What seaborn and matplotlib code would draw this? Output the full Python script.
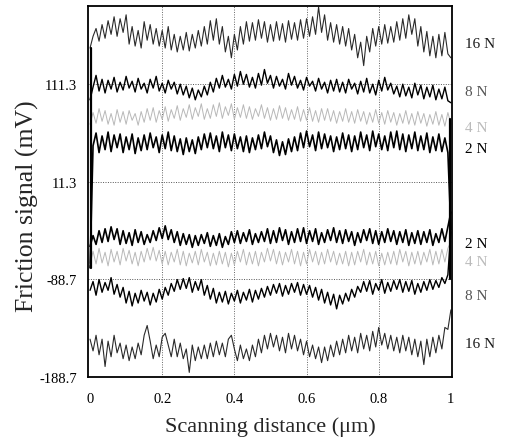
import numpy as np
import pandas as pd
import matplotlib
matplotlib.use("Agg")
import matplotlib.pyplot as plt
import matplotlib.transforms as mtransforms
import seaborn as sns

# ---------------- data (mV), sampled along 0..1 um ----------------
top_16N = [148, 160, 168, 155, 172, 158, 176, 162, 180, 160, 178, 164, 182, 152, 170, 150, 166, 148, 175, 156,
           172, 152, 168, 150, 166, 148, 170, 146, 162, 144, 160, 146, 164, 145, 162, 148, 166, 150, 170, 152,
           176, 156, 178, 152, 170, 144, 160, 138, 162, 146, 170, 152, 175, 155, 174, 156, 177, 158, 175, 154,
           172, 155, 175, 156, 173, 154, 176, 157, 174, 156, 177, 158, 178, 160, 180, 162, 190, 164, 182, 156,
           174, 154, 172, 152, 170, 150, 168, 146, 162, 138, 154, 130, 160, 144, 168, 150, 170, 152, 172, 153,
           170, 154, 175, 156, 178, 158, 182, 162, 178, 150, 170, 144, 165, 140, 160, 138, 162, 140, 164, 142,
           138]
top_8N = [95, 108, 120, 104, 116, 102, 115, 106, 118, 103, 113, 105, 119, 107, 114, 103, 117, 106, 112, 102,
          116, 107, 119, 104, 112, 102, 115, 106, 113, 101, 111, 100, 109, 97, 107, 95, 105, 98, 109, 100,
          113, 103, 117, 107, 120, 108, 116, 106, 121, 109, 124, 111, 121, 108, 118, 107, 122, 110, 126, 112,
          120, 107, 119, 109, 116, 106, 122, 110, 119, 107, 115, 105, 118, 109, 114, 104, 117, 106, 113, 102,
          115, 104, 116, 103, 113, 102, 116, 106, 112, 101, 114, 103, 117, 102, 111, 100, 115, 104, 118, 105,
          112, 101, 109, 98, 111, 99, 108, 97, 112, 100, 110, 96, 108, 98, 110, 95, 106, 96, 108, 94,
          92]
top_4N = [70, 82, 71, 86, 73, 84, 70, 81, 69, 85, 72, 83, 70, 84, 74, 81, 69, 83, 72, 86,
          74, 87, 72, 84, 75, 88, 73, 85, 76, 89, 74, 86, 77, 90, 75, 87, 78, 91, 75, 86,
          76, 90, 78, 92, 76, 88, 79, 91, 75, 87, 77, 90, 76, 88, 75, 86, 78, 90, 76, 87,
          74, 86, 75, 89, 76, 87, 74, 85, 75, 88, 73, 85, 74, 87, 73, 84, 72, 86, 74, 86,
          73, 84, 71, 83, 73, 86, 72, 83, 71, 85, 73, 83, 70, 82, 72, 85, 71, 82, 70, 84,
          72, 82, 69, 81, 71, 84, 70, 81, 69, 83, 71, 81, 68, 80, 70, 83, 69, 80, 68, 82,
          70]
top_2N = [-77, 48, 61, 41, 58, 44, 62, 42, 59, 46, 60, 41, 57, 44, 60, 40, 56, 43, 59, 44,
          61, 46, 57, 41, 59, 45, 62, 43, 58, 42, 55, 39, 56, 42, 54, 40, 57, 44, 60, 46,
          61, 45, 58, 42, 62, 46, 59, 43, 60, 45, 57, 42, 58, 41, 56, 44, 59, 45, 62, 47,
          58, 41, 54, 38, 52, 39, 55, 42, 57, 43, 61, 46, 63, 47, 59, 43, 62, 45, 60, 46,
          58, 42, 57, 44, 61, 45, 59, 42, 58, 44, 62, 46, 59, 43, 63, 47, 60, 44, 58, 43,
          62, 46, 63, 44, 60, 42, 59, 45, 62, 43, 58, 44, 61, 41, 57, 43, 60, 42, 56, 41,
          -38]
bot_2N = [-55, -44, -53, -39, -51, -37, -50, -35, -48, -37, -53, -39, -52, -41, -54, -38, -51, -40, -53, -43,
          -51, -39, -49, -36, -47, -34, -48, -38, -51, -40, -54, -42, -53, -43, -56, -44, -54, -43, -52, -41,
          -55, -44, -54, -42, -56, -45, -53, -40, -51, -39, -52, -41, -50, -38, -53, -42, -51, -40, -50, -37,
          -52, -39, -51, -36, -49, -38, -53, -40, -51, -37, -50, -36, -52, -39, -50, -37, -53, -41, -51, -38,
          -49, -36, -51, -39, -52, -38, -50, -40, -54, -41, -51, -38, -49, -37, -52, -39, -53, -40, -51, -37,
          -50, -39, -53, -40, -51, -38, -54, -41, -52, -39, -53, -40, -51, -38, -54, -42, -51, -37, -50, -35,
          -20]
bot_4N = [-74, -60, -73, -57, -72, -61, -75, -58, -71, -60, -74, -57, -70, -59, -73, -61, -75, -60, -71, -57,
          -69, -56, -70, -59, -73, -60, -74, -61, -71, -58, -74, -60, -75, -62, -72, -60, -74, -58, -71, -61,
          -75, -62, -74, -60, -73, -61, -76, -62, -74, -60, -71, -58, -74, -61, -73, -60, -75, -61, -71, -57,
          -70, -58, -73, -60, -74, -61, -71, -58, -73, -60, -75, -61, -73, -58, -71, -60, -74, -61, -73, -58,
          -71, -60, -74, -62, -73, -60, -75, -61, -74, -60, -71, -58, -74, -61, -73, -60, -75, -62, -74, -61,
          -73, -60, -74, -58, -71, -60, -75, -61, -73, -60, -74, -61, -71, -58, -74, -60, -73, -58, -71, -57,
          -50]
bot_8N = [-100, -91, -105, -89, -102, -92, -100, -87, -104, -94, -107, -97, -113, -101, -116, -103, -113, -100, -111, -102,
          -115, -103, -112, -99, -109, -97, -105, -93, -101, -89, -99, -88, -98, -87, -102, -91, -100, -89, -105, -95,
          -109, -98, -113, -102, -112, -101, -114, -103, -111, -100, -113, -102, -110, -99, -112, -100, -109, -98, -107, -96,
          -105, -94, -103, -93, -106, -95, -104, -93, -102, -92, -105, -94, -104, -95, -107, -97, -110, -99, -113, -102,
          -115, -104, -119, -105, -114, -103, -111, -99, -107, -96, -102, -91, -101, -90, -104, -93, -100, -89, -103, -92,
          -101, -90, -99, -89, -102, -91, -101, -90, -104, -93, -102, -91, -100, -89, -99, -90, -97, -87, -93, -84,
          -40]
bot_16N = [-150, -162, -146, -166, -150, -178, -152, -168, -146, -164, -154, -170, -156, -172, -158, -170, -154, -166, -146, -136,
           -152, -170, -156, -168, -148, -144, -156, -168, -150, -168, -154, -170, -160, -184, -156, -172, -158, -170, -156, -170,
           -154, -168, -152, -166, -154, -168, -150, -146, -160, -172, -156, -170, -160, -172, -156, -168, -150, -164, -146, -160,
           -144, -158, -146, -162, -148, -164, -144, -160, -146, -162, -150, -166, -152, -168, -156, -170, -158, -174, -158, -172,
           -156, -168, -152, -166, -150, -164, -146, -162, -148, -164, -144, -160, -146, -162, -142, -158, -138, -156, -144, -160,
           -146, -162, -148, -164, -146, -162, -148, -166, -150, -168, -152, -176, -150, -168, -148, -164, -146, -160, -138, -140,
           -120]
# scan turnaround segments at the ends
turn_x_left = [0.004, 0.004]
turn_left = [148, -77]
turn_x_right = [0.997, 0.997]
turn_right = [75, -88]

loads = ["16 N", "8 N", "4 N", "2 N", "2 N", "4 N", "8 N", "16 N"]
y_ticks = [-188.7, -88.7, 11.3, 111.3]
x_ticks = [0, 0.2, 0.4, 0.6, 0.8, 1]

# ---------------- plotting ----------------
sns.set_theme(style="white")
plt.rcParams["font.family"] = ["Liberation Serif", "DejaVu Serif"]

fig = plt.figure(figsize=(5.05, 4.39), dpi=100)
ax = fig.add_axes([0.174, 0.139, 0.721, 0.845])

traces = [top_16N, top_8N, top_4N, top_2N, bot_2N, bot_4N, bot_8N, bot_16N]
styles = {
    "16 N": dict(color="#2a2a2a", lw=0.8),
    "8 N": dict(color="#000000", lw=1.0),
    "4 N": dict(color="#b8b8b8", lw=0.7),
    "2 N": dict(color="#000000", lw=1.2),
}
label_colors = {"16 N": "#1a1a1a", "8 N": "#555555", "4 N": "#bbbbbb", "2 N": "#000000"}
n = len(top_16N)
xs = np.linspace(0, 1, n)
for vals, lab in zip(traces, loads):
    df = pd.DataFrame({"x": xs, "y": vals})
    st = styles[lab]
    sns.lineplot(data=df, x="x", y="y", ax=ax, estimator=None, sort=False,
                 color=st["color"], linewidth=st["lw"], legend=False)

for tx, ty in [(turn_x_left, turn_left), (turn_x_right, turn_right)]:
    sns.lineplot(x=tx, y=ty, ax=ax, estimator=None, sort=False,
                 color="black", linewidth=1.6, legend=False)

ax.set_xlim(-0.006, 1.003)
ax.set_ylim(-188.7, 191)
ax.set_xticks(x_ticks)
ax.set_xticklabels(["0", "0.2", "0.4", "0.6", "0.8", "1"])
ax.set_yticks(y_ticks)
ax.set_yticklabels([f"{v:g}" for v in y_ticks])
ax.tick_params(axis="x", length=0, labelsize=10.5, colors="black", pad=11)
ax.tick_params(axis="y", length=0, labelsize=10.5, colors="black", pad=8)

for xv in x_ticks[1:-1]:
    ax.axvline(xv, color="#666666", lw=0.7, ls=(0, (1, 1.5)), zorder=0)
for yv in y_ticks[1:]:
    ax.axhline(yv, color="#555555", lw=0.7, ls=(0, (1, 1.5)), zorder=0)

for sp in ax.spines.values():
    sp.set_visible(True)
    sp.set_color("black")
    sp.set_linewidth(1.3)

ax.set_xlabel("Scanning distance (μm)", fontsize=16, labelpad=8)
ax.set_ylabel("Friction signal (mV)", fontsize=18.5)
ax.yaxis.set_label_coords(-0.135, 0.464)

trans = mtransforms.blended_transform_factory(ax.transAxes, ax.transData)
label_y = [153, 103, 67, 45, -52, -70, -105, -154]
for lab, ly in zip(loads, label_y):
    ax.text(1.035, ly, lab, transform=trans, fontsize=11, color=label_colors[lab],
            va="center", ha="left")

fig.savefig("out.png", dpi=100)
